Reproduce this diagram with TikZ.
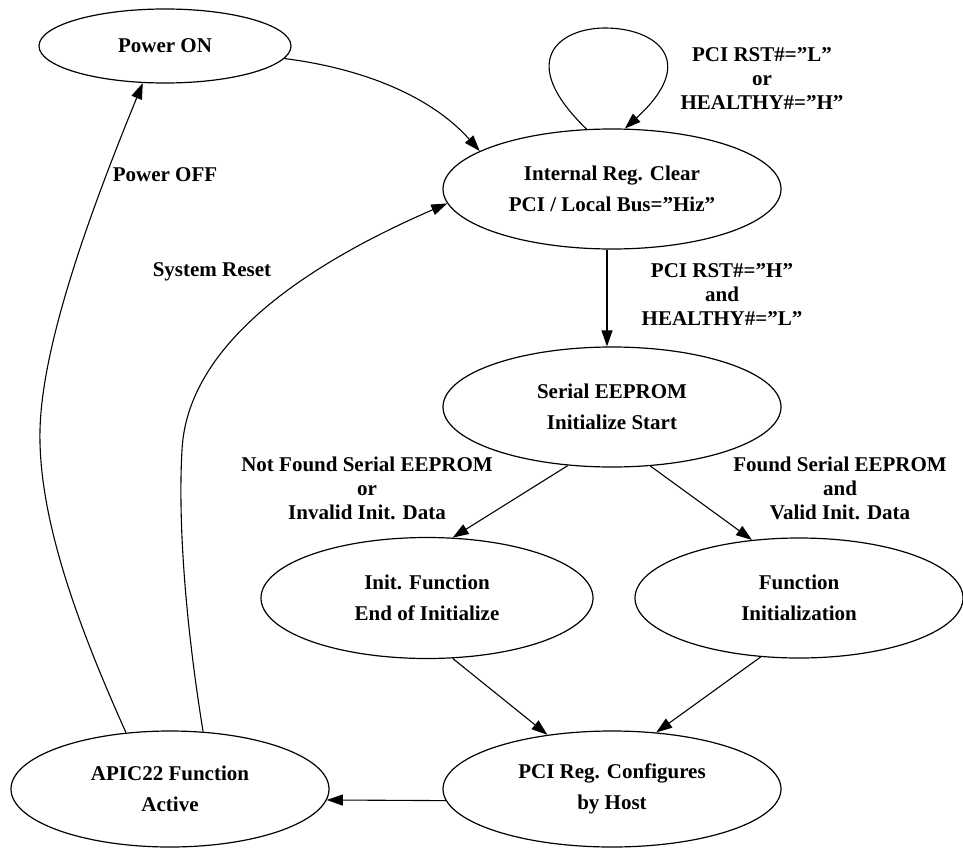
\documentclass[tikz,border=0pt]{standalone}
\usepackage{fontspec}
\setmainfont{Liberation Serif}
\usetikzlibrary{shapes,arrows.meta}
\tikzset{
 st/.style={ellipse,draw,line width=1.2pt,inner sep=0pt,align=center,font=\bfseries\fontsize{21}{31}\selectfont},
 lb/.style={align=center,inner sep=0pt,font=\bfseries\fontsize{21}{24}\selectfont},
 tr/.style={-{Triangle[length=16pt,width=11pt]},line width=1.1pt}
}

\begin{document}
\begin{tikzpicture}[x=1pt,y=-1pt]
\useasboundingbox (0,0) rectangle (963,848);
% states
\node[st,minimum width=252,minimum height=74] (pon) at (165,46) {Power ON};
\node[st,minimum width=338,minimum height=120] (ic) at (612,189) {Internal Reg. Clear\\PCI / Local Bus=''Hiz''};
\node[st,minimum width=338,minimum height=120] (ee) at (612,407) {Serial EEPROM\\Initialize Start};
\node[st,minimum width=332,minimum height=121] (ifn) at (427,598) {Init. Function\\End of Initialize};
\node[st,minimum width=328,minimum height=120] (fn) at (799,598) {Function\\Initialization};
\node[st,minimum width=338,minimum height=116] (pr) at (612,789) {PCI Reg. Configures\\by Host};
\node[st,minimum width=318,minimum height=116] (ap) at (170,789) {APIC22 Function\\Active};
% conditions
\node[lb] (l1) at (762,79) {PCI RST\#=''L''\\or\\HEALTHY\#=''H''};
\node[lb] (l2) at (722,295) {PCI RST\#=''H''\\and\\HEALTHY\#=''L''};
\node[lb] (l3) at (367,488) {Not Found Serial EEPROM\\or\\Invalid Init. Data};
\node[lb] (l4) at (840,488) {Found Serial EEPROM\\and\\Valid Init. Data};
\node[lb] (l5) at (165,175) {Power OFF};
\node[lb] (l6) at (212,272) {System Reset};
% transitions
\draw[tr] (pon.-6) .. controls (360,68) and (430,95) .. (ic.164);
\draw[tr] (ic.113) .. controls (515,60) and (560,28) .. (605,28) .. controls (655,28) and (700,60) .. (ic.78);
\draw[tr] ([xshift=-5]ic.south) -- ([xshift=-5]ee.north);
\draw[tr] (ee.233) -- (ifn.67);
\draw[tr] (ee.-57) -- (fn.129);
\draw[tr] (ifn.-67) -- (pr.140);
\draw[tr] (fn.237) -- (pr.52);
\draw[tr] (pr.184.5) -- (ap.-4.8);
\draw[tr] (ap.128) .. controls (80,630) and (38,520) .. (40,430) .. controls (42,340) and (95,200) .. (pon.239);
\draw[tr] (ap.60) .. controls (185,620) and (178,520) .. (182,450) .. controls (188,330) and (340,250) .. (ic.185);
\end{tikzpicture}
\end{document}
